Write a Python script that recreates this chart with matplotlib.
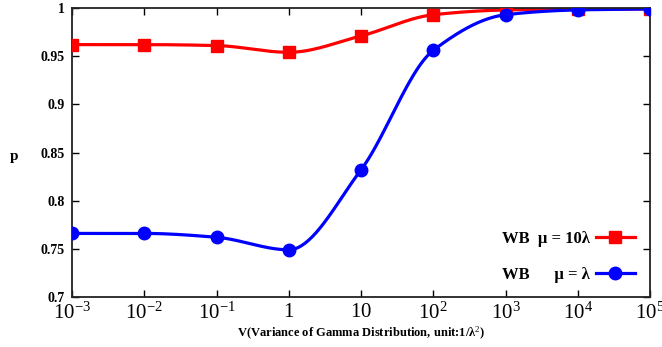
import matplotlib
matplotlib.use('Agg')
import matplotlib.pyplot as plt
import numpy as np

# data
variance = [1e-3, 1e-2, 1e-1, 1, 10, 1e2, 1e3, 1e4, 1e5]
p_mu10 = [0.962, 0.962, 0.961, 0.954, 0.971, 0.993, 0.998, 0.999, 0.999]
p_mu1 = [0.766, 0.766, 0.762, 0.749, 0.832, 0.956, 0.993, 0.998, 0.999]
xtick_labels = ['$10^{-3}$', '$10^{-2}$', '$10^{-1}$', '$1$', '$10$',
                '$10^{2}$', '$10^{3}$', '$10^{4}$', '$10^{5}$']
yticks = [0.7, 0.75, 0.8, 0.85, 0.9, 0.95, 1.0]
ytick_labels = ['0.7', '0.75', '0.8', '0.85', '0.9', '0.95', '1']

plt.rcParams['font.family'] = ['Liberation Serif', 'DejaVu Serif']
plt.rcParams['mathtext.fontset'] = 'custom'
plt.rcParams['mathtext.rm'] = 'Liberation Serif'
plt.rcParams['mathtext.it'] = 'Liberation Serif'


def smooth(xs, ys, n=40):
    # monotone cubic (Fritsch-Carlson) in log10(x) space, only to draw the curve
    t = np.log10(np.asarray(xs, float))
    y = np.asarray(ys, float)
    h = np.diff(t)
    dl = np.diff(y) / h
    m = np.zeros_like(y)
    m[0], m[-1] = dl[0], dl[-1]
    for i in range(1, len(y) - 1):
        if dl[i - 1] * dl[i] > 0:
            w1 = 2 * h[i] + h[i - 1]
            w2 = h[i] + 2 * h[i - 1]
            m[i] = (w1 + w2) / (w1 / dl[i - 1] + w2 / dl[i])
    tt, yy = [], []
    for i in range(len(y) - 1):
        s = np.linspace(0, 1, n, endpoint=(i == len(y) - 2))
        h00 = 2 * s ** 3 - 3 * s ** 2 + 1
        h10 = s ** 3 - 2 * s ** 2 + s
        h01 = -2 * s ** 3 + 3 * s ** 2
        h11 = s ** 3 - s ** 2
        tt.append(t[i] + s * h[i])
        yy.append(h00 * y[i] + h10 * h[i] * m[i] + h01 * y[i + 1] + h11 * h[i] * m[i + 1])
    return 10 ** np.concatenate(tt), np.concatenate(yy)


fig = plt.figure(figsize=(6.62, 3.47), dpi=100)
ax = fig.add_axes([72 / 662, 50 / 347, 578 / 662, 289 / 347])

sx, sy = smooth(variance, p_mu10)
ax.plot(sx, sy, color='#ff0000', lw=2.3, zorder=2)
ax.plot(variance, p_mu10, ls='none', marker='s', ms=8, color='#ff0000', zorder=3)
sx, sy = smooth(variance, p_mu1)
ax.plot(sx, sy, color='#0000ff', lw=2.3, zorder=2)
ax.plot(variance, p_mu1, ls='none', marker='o', ms=9, color='#0000ff', zorder=3)

# legend handles
ax.plot([], [], color='#ff0000', lw=2.3, marker='s', ms=8, label='WB  μ = 10λ')
ax.plot([], [], color='#0000ff', lw=2.3, marker='o', ms=9, label='WB      μ = λ')
leg = ax.legend(loc='lower right', frameon=False, markerfirst=False,
                prop={'weight': 'bold', 'size': 12}, handlelength=2.3,
                handletextpad=0.4, labelspacing=1.2, borderaxespad=0.0,
                bbox_to_anchor=(0.985, 0.025))

ax.set_xscale('log')
ax.set_xlim(1e-3, 1e5)
ax.set_ylim(0.7, 1.0)
ax.set_xticks(variance)
ax.set_xticklabels(xtick_labels, fontsize=15)
ax.minorticks_off()
ax.set_yticks(yticks)
ax.set_yticklabels(ytick_labels, fontsize=10, fontweight='bold')
ax.tick_params(direction='in', top=True, right=True, length=5, width=1, pad=5)
ax.tick_params(axis='x', pad=4)
for s in ax.spines.values():
    s.set_linewidth(1.3)
    s.set_color('#222222')

ax.set_xlabel('V(Variance of Gamma Distribution, unit:1/λ$^{2}$)',
              fontsize=9, fontweight='bold', labelpad=1)
fig.text(10 / 662, 1 - 157 / 347, 'p', fontsize=11, fontweight='bold', va='center')

fig.savefig('out.png', dpi=100)
